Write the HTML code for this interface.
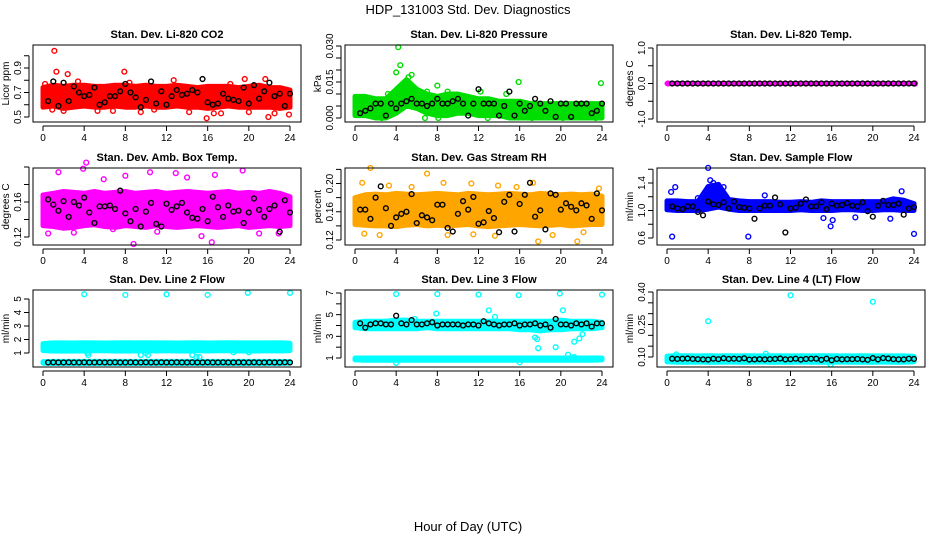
<!DOCTYPE html>
<html><head><meta charset="utf-8"><style>
html,body{margin:0;padding:0;background:#fff;}
svg{display:block;font-family:"Liberation Sans",sans-serif;}
</style></head><body>
<svg id="chart" width="936" height="540" viewBox="0 0 936 540" xmlns="http://www.w3.org/2000/svg">
<rect width="936" height="540" fill="#fff"/>
<text x="468" y="14" text-anchor="middle" font-size="13">HDP_131003  Std. Dev. Diagnostics</text>
<text x="468" y="531" text-anchor="middle" font-size="13">Hour of Day (UTC)</text>
</svg>
<script>
// ---- data ----
const xTicks = [0,4,8,12,16,20,24];
const panelTitles = ["Stan. Dev. Li-820 CO2","Stan. Dev. Li-820 Pressure","Stan. Dev. Li-820 Temp.","Stan. Dev. Amb. Box Temp.","Stan. Dev. Gas Stream RH","Stan. Dev. Sample Flow","Stan. Dev. Line 2 Flow","Stan. Dev. Line 3 Flow","Stan. Dev. Line 4 (LT) Flow"];
const yTitles = ["Licor ppm","kPa","degrees C","degrees C","percent","ml/min","ml/min","ml/min","ml/min"];
const seriesColors = ["#ff0000","#00dd00","#ff00ff","#ff00ff","#ffa500","#0000ff","#00ffff","#00ffff","#00ffff"];
const yTickVals = [[0.5,0.6,0.7,0.8,0.9,1.0],[0,0.005,0.01,0.015,0.02,0.025,0.03],[-1,-0.5,0,0.5,1],[0.12,0.14,0.16,0.18,0.20],[0.12,0.14,0.16,0.18,0.20,0.22],[0.6,0.8,1.0,1.2,1.4,1.6],[1,2,3,4,5],[1,2,3,4,5,6,7],[0.10,0.15,0.20,0.25,0.30,0.35,0.40]];
const yTickLabels = [["0.5","","0.7","","0.9",""],["0.000","","","0.015","","","0.030"],["-1.0","","0.0","","1.0"],["0.12","","0.16","",""],["0.12","","0.16","","0.20",""],["0.6","","1.0","","1.4",""],["1","2","3","4","5"],["1","","3","","5","","7"],["0.10","","","0.25","","","0.40"]];
// hourly band limits (dense point clouds), hours 0..24
const bandLo = [
 [[0.58,0.59,0.57,0.58,0.59,0.58,0.58,0.59,0.58,0.58,0.59,0.58,0.58,0.59,0.58,0.58,0.57,0.58,0.59,0.58,0.58,0.58,0.58,0.57,0.58]],
 [[0.001,0.001,0,0,0.002,0.005,0.004,0.002,0.001,0.001,0.002,0.002,0.001,0.001,0.001,0,0,0,0,0,0,0,0,0,0]],
 [[0,0,0,0,0,0,0,0,0,0,0,0,0,0,0,0,0,0,0,0,0,0,0,0,0]],
 [[0.133,0.132,0.130,0.131,0.133,0.134,0.132,0.131,0.133,0.132,0.131,0.133,0.132,0.131,0.132,0.133,0.132,0.131,0.132,0.133,0.131,0.132,0.133,0.132,0.133]],
 [[0.142,0.141,0.140,0.140,0.139,0.141,0.142,0.140,0.141,0.140,0.141,0.142,0.140,0.139,0.140,0.141,0.142,0.141,0.140,0.141,0.142,0.140,0.141,0.142,0.142]],
 [[1.01,1.00,1.00,1.00,1.02,1.05,1.02,1.00,1.00,1.00,1.00,1.00,1.00,1.01,1.00,1.00,1.00,1.01,1.01,1.00,1.00,1.01,1.01,1.00,1.00]],
 [[1.18,1.15,1.14,1.15,1.15,1.16,1.16,1.15,1.15,1.15,1.16,1.15,1.16,1.15,1.15,1.16,1.15,1.16,1.16,1.15,1.15,1.15,1.16,1.15,1.18],[0.25,0.22,0.22,0.22,0.22,0.22,0.22,0.22,0.22,0.22,0.22,0.22,0.22,0.22,0.22,0.22,0.22,0.22,0.22,0.22,0.22,0.22,0.22,0.22,0.25]],
 [[3.8,3.7,3.7,3.7,3.7,3.7,3.7,3.8,3.7,3.7,3.7,3.7,3.7,3.7,3.7,3.7,3.6,3.6,3.5,3.6,3.6,3.7,3.7,3.7,3.8],[0.82,0.80,0.80,0.80,0.80,0.80,0.80,0.80,0.80,0.80,0.80,0.80,0.80,0.80,0.80,0.80,0.80,0.80,0.80,0.80,0.80,0.80,0.80,0.80,0.82]],
 [[0.078,0.076,0.076,0.077,0.076,0.076,0.077,0.076,0.076,0.077,0.076,0.076,0.076,0.077,0.076,0.076,0.076,0.077,0.076,0.076,0.076,0.077,0.076,0.076,0.078]]
];
const bandHi = [
 [[0.74,0.76,0.75,0.76,0.76,0.75,0.75,0.76,0.76,0.75,0.76,0.75,0.75,0.76,0.75,0.74,0.75,0.75,0.75,0.74,0.75,0.76,0.74,0.74,0.72]],
 [[0.009,0.009,0.008,0.008,0.012,0.016,0.012,0.010,0.009,0.010,0.010,0.009,0.008,0.008,0.007,0.007,0.007,0.006,0.006,0.006,0.006,0.006,0.006,0.006,0.006]],
 [[0,0,0,0,0,0,0,0,0,0,0,0,0,0,0,0,0,0,0,0,0,0,0,0,0]],
 [[0.168,0.170,0.172,0.171,0.170,0.172,0.170,0.171,0.172,0.170,0.171,0.172,0.170,0.171,0.172,0.171,0.170,0.171,0.172,0.170,0.171,0.170,0.172,0.170,0.166]],
 [[0.180,0.184,0.185,0.184,0.186,0.185,0.184,0.185,0.186,0.185,0.184,0.186,0.185,0.184,0.185,0.186,0.185,0.184,0.186,0.185,0.184,0.185,0.184,0.185,0.182]],
 [[1.14,1.14,1.13,1.13,1.35,1.38,1.16,1.14,1.13,1.13,1.13,1.12,1.12,1.13,1.12,1.14,1.13,1.13,1.13,1.13,1.13,1.13,1.17,1.15,1.10]],
 [[1.70,1.75,1.75,1.74,1.76,1.75,1.74,1.75,1.76,1.75,1.76,1.75,1.75,1.74,1.75,1.76,1.74,1.75,1.76,1.75,1.75,1.75,1.75,1.76,1.72],[0.36,0.38,0.38,0.38,0.38,0.38,0.38,0.38,0.38,0.38,0.38,0.38,0.38,0.38,0.38,0.38,0.38,0.38,0.38,0.38,0.38,0.38,0.38,0.38,0.36]],
 [[4.3,4.4,4.4,4.4,4.5,4.5,4.4,4.4,4.4,4.4,4.4,4.4,4.4,4.4,4.4,4.4,4.4,4.4,4.4,4.4,4.5,4.4,4.4,4.4,4.3]],
 [[0.104,0.106,0.106,0.105,0.106,0.105,0.106,0.105,0.106,0.105,0.105,0.106,0.105,0.105,0.105,0.106,0.105,0.105,0.105,0.106,0.105,0.105,0.105,0.105,0.103]]
];
// note: bandLo/bandHi for panel 8 second band
bandHi[7].push([1.0,1.0,1.0,1.0,1.0,1.0,1.0,1.0,1.0,1.0,1.0,1.0,1.0,1.0,1.0,1.0,1.0,1.0,1.0,1.0,1.0,1.0,1.0,1.0,1.0]);
// scattered coloured points [hour, value]
const scatterPts = [
 [[1.1,1.04],[1.3,0.87],[2.4,0.85],[7.9,0.87],[0.2,0.77],[3.4,0.79],[12.7,0.80],[15.9,0.49],[19.6,0.81],[21.6,0.81],[21.9,0.50],[23.9,0.52],[0.9,0.56],[2.0,0.55],[5.3,0.55],[8.4,0.78],[9.5,0.54],[14.2,0.54],[16.6,0.53],[17.3,0.53],[20.0,0.54],[22.5,0.53],[6.8,0.55],[18.2,0.77],[10.8,0.56]],
 [[4.2,0.0295],[4.4,0.022],[5.5,0.018],[8.0,0.0135],[15.9,0.015],[23.9,0.0145],[4.0,0.019],[5.2,0.017],[9.0,0.011],[12.2,0.011],[14.7,0.010],[3.2,0.010],[7.0,0.011],[2.6,0],[6.8,0],[8.1,0],[12.9,0],[17.2,0],[20.2,0],[23.4,0]],
 [[0.1,0],[24.1,0]],
 [[1.5,0.194],[3.9,0.198],[4.2,0.205],[10.4,0.194],[14.0,0.188],[16.7,0.191],[19.4,0.196],[12.9,0.193],[8.8,0.112],[16.4,0.114],[3.0,0.125],[21.0,0.124],[22.9,0.124],[6.8,0.129],[0.5,0.124],[11.1,0.126],[15.4,0.121],[5.9,0.186],[8.0,0.190],[23.7,0.165]],
 [[1.5,0.222],[7.0,0.214],[0.7,0.201],[3.3,0.197],[8.6,0.201],[11.3,0.200],[13.9,0.197],[15.7,0.195],[17.3,0.201],[17.8,0.118],[21.6,0.118],[0.9,0.129],[2.4,0.127],[9.0,0.127],[11.5,0.128],[13.6,0.126],[19.2,0.127],[22.2,0.131],[5.5,0.195],[23.7,0.193]],
 [[4.0,1.62],[4.2,1.44],[4.5,1.40],[5.5,1.34],[0.8,1.34],[0.4,1.27],[22.8,1.28],[0.5,0.62],[7.9,0.62],[15.9,0.77],[16.1,0.86],[24.0,0.66],[15.2,0.89],[18.3,0.90],[21.7,0.88],[9.5,1.22],[3.0,1.18]],
 [[4.0,5.35],[8.0,5.3],[12.0,5.35],[16.0,5.3],[19.9,5.45],[24.0,5.45],[4.4,0.85],[9.5,0.85],[10.2,0.85],[14.5,0.85],[14.9,0.7],[15.2,0.7],[4.3,1.0],[10.0,1.0],[20.0,1.05],[18.5,1.05]],
 [[4.0,6.9],[8.0,6.9],[12.0,6.85],[15.9,6.8],[19.9,6.95],[24.0,6.85],[13.0,5.4],[20.2,5.4],[7.9,5.1],[17.5,2.9],[17.7,2.75],[17.8,1.9],[19.5,2.0],[21.3,2.5],[21.8,2.8],[22.1,3.2],[20.7,1.3],[21.3,1.1],[4.0,0.55],[16.0,0.6],[5.8,4.6],[13.6,4.8]],
 [[4.0,0.265],[12.0,0.385],[20.0,0.355],[9.6,0.115],[15.9,0.065],[0.9,0.112]]
];
// black (current-day) points, half-hourly 0.5..24
const blackVals = [
 [0.63,0.79,0.59,0.78,0.63,0.75,0.70,0.67,0.68,0.74,0.60,0.62,0.67,0.67,0.71,0.77,0.70,0.66,0.58,0.64,0.79,0.61,0.71,0.60,0.67,0.72,0.68,0.69,0.72,0.70,0.81,0.62,0.60,0.61,0.69,0.65,0.64,0.63,0.74,0.61,0.76,0.65,0.71,0.78,0.67,0.69,0.59,0.69],
 [0.002,0.003,0.004,0.006,0.006,0.001,0.006,0.004,0.006,0.007,0.008,0.006,0.006,0.005,0.006,0.008,0.006,0.006,0.007,0.008,0.006,0.001,0.006,0.012,0.006,0.006,0.006,0.001,0.005,0.011,0.001,0.006,0.003,0.005,0.008,0.006,0.003,0.007,0.0005,0.006,0.006,0.0005,0.006,0.006,0.006,0.002,0.003,0.006],
 [0,0,0,0,0,0,0,0,0,0,0,0,0,0,0,0,0,0,0,0,0,0,0,0,0,0,0,0,0,0,0,0,0,0,0,0,0,0,0,0,0,0,0,0,0,0,0,0],
 [0.163,0.157,0.150,0.161,0.143,0.160,0.156,0.165,0.148,0.136,0.155,0.155,0.156,0.152,0.173,0.147,0.138,0.152,0.132,0.149,0.159,0.135,0.132,0.158,0.151,0.155,0.159,0.148,0.142,0.141,0.152,0.138,0.166,0.154,0.143,0.156,0.149,0.150,0.136,0.148,0.164,0.151,0.143,0.152,0.156,0.126,0.162,0.148],
 [0.163,0.163,0.150,0.180,0.196,0.165,0.140,0.152,0.157,0.160,0.185,0.144,0.155,0.152,0.148,0.170,0.170,0.137,0.132,0.157,0.175,0.163,0.181,0.143,0.145,0.161,0.151,0.131,0.174,0.184,0.132,0.171,0.184,0.201,0.153,0.162,0.135,0.186,0.184,0.163,0.172,0.167,0.162,0.172,0.169,0.150,0.186,0.162],
 [1.06,1.03,1.02,1.06,1.06,0.98,0.93,1.13,1.09,1.08,1.12,1.03,1.13,1.05,1.04,1.03,0.88,1.03,1.07,1.07,1.19,1.09,0.68,1.03,1.04,1.10,1.16,1.06,1.06,1.12,1.02,1.10,1.07,1.08,1.11,1.07,1.06,1.12,0.99,0.91,1.07,1.14,1.08,1.08,1.10,0.94,1.03,1.05],
 [0.30,0.31,0.30,0.30,0.31,0.30,0.30,0.31,0.30,0.30,0.31,0.30,0.30,0.31,0.30,0.30,0.31,0.30,0.30,0.31,0.30,0.30,0.31,0.30,0.30,0.31,0.30,0.30,0.31,0.30,0.30,0.31,0.30,0.30,0.31,0.30,0.30,0.31,0.30,0.30,0.31,0.30,0.30,0.31,0.30,0.30,0.31,0.30],
 [4.2,3.8,4.1,4.2,4.2,4.1,4.1,4.9,4.2,4.1,4.5,4.1,4.1,4.2,4.3,4.0,4.1,4.1,4.1,4.1,4.0,4.1,4.1,4.0,4.4,4.2,4.1,4.0,4.1,4.1,4.2,4.0,4.1,4.1,4.2,4.0,4.1,3.8,4.6,4.1,4.1,4.0,4.2,4.1,4.2,3.9,4.2,4.2],
 [0.092,0.091,0.092,0.093,0.091,0.090,0.089,0.088,0.092,0.090,0.094,0.091,0.092,0.091,0.094,0.088,0.089,0.090,0.089,0.090,0.091,0.093,0.089,0.090,0.092,0.088,0.091,0.092,0.092,0.087,0.092,0.085,0.091,0.089,0.090,0.090,0.091,0.089,0.087,0.095,0.089,0.095,0.093,0.090,0.089,0.089,0.092,0.091]
];
// ---- layout: value->pixel calibration per panel (value, pixel pairs) ----
const colX0 = [43,355,667];
const rowTop = [45,168,290];
const yCal = [[0.5,117,0.9,68],[0,118,0.03,46],[-1,119,1,48],[0.12,237,0.16,202],[0.12,240,0.20,183.5],[0.6,238,1.4,183],[1,353,5,299],[1,358,7,293],[0.10,357,0.40,292]];
const NS="http://www.w3.org/2000/svg";
const svg=document.getElementById('chart');
function mk(tag,attrs,parent){const e=document.createElementNS(NS,tag);for(const k in attrs)e.setAttribute(k,attrs[k]);(parent||svg).appendChild(e);return e;}
for(let p=0;p<9;p++){
  const col=p%3,row=Math.floor(p/3);
  const x0=colX0[col],left=x0-10,right=x0+258,top=rowTop[row],bot=top+77;
  const xs=t=>x0+t*247/24;
  const c=yCal[p];
  const ys=v=>c[1]+(v-c[0])*(c[3]-c[1])/(c[2]-c[0]);
  const g=mk('g',{});
  
  
  const tt=mk('text',{x:(left+right)/2,y:top-7,'text-anchor':'middle','font-size':'11','font-weight':'bold'},g);
  tt.textContent=panelTitles[p];
  
  
  // bands
  const col_=seriesColors[p];
  bandLo[p].forEach((lo,bi)=>{
    const hi=bandHi[p][bi];
    let d='';
    lo.forEach((v,i)=>{d+=(i?'L':'M')+xs(i).toFixed(1)+','+ys(hi[i]).toFixed(1);});
    for(let i=lo.length-1;i>=0;i--)d+='L'+xs(i).toFixed(1)+','+ys(lo[i]).toFixed(1);
    const b=mk('path',{d:d+'Z',fill:col_,stroke:col_,'stroke-width':'5','stroke-linejoin':'round'},g);
    
    
  });
  scatterPts[p].forEach(pt=>{
    const e=mk('circle',{cx:xs(pt[0]),cy:ys(pt[1]),r:2.4,fill:'none',stroke:col_,'stroke-width':1.4},g);
    
    
  });
  blackVals[p].forEach((v,i)=>{
    const e=mk('circle',{cx:xs((i+1)*0.5),cy:ys(v),r:2.4,fill:'none',stroke:'#000','stroke-width':1.4},g);
    
    
  });
  const box=mk('rect',{x:left,y:top,width:right-left,height:bot-top,fill:'none',stroke:'#000','stroke-width':1},g);
  
  
  // x axis
  mk('line',{x1:xs(0),x2:xs(24),y1:bot+4,y2:bot+4,stroke:'#000'},g);
  xTicks.forEach(t=>{
    mk('line',{x1:xs(t),x2:xs(t),y1:bot+4,y2:bot+9,stroke:'#000'},g);
    const l=mk('text',{x:xs(t),y:bot+19,'text-anchor':'middle','font-size':'10'},g);
    l.textContent=t;
    
    
  });
  // y axis
  const tv=yTickVals[p];
  mk('line',{x1:left-4,x2:left-4,y1:ys(tv[0]),y2:ys(tv[tv.length-1]),stroke:'#000'},g);
  tv.forEach((v,i)=>{
    const y=ys(v);
    mk('line',{x1:left-9,x2:left-4,y1:y,y2:y,stroke:'#000'},g);
    const s=yTickLabels[p][i];
    if(s){
      const l=mk('text',{x:left-12,y:y,'text-anchor':'middle','font-size':'10',transform:'rotate(-90 '+(left-12)+' '+y+')'},g);
      l.textContent=s;
      
      
    }
  });
  const ym=(top+bot)/2;
  const yt=mk('text',{x:left-24,y:ym,'text-anchor':'middle','font-size':'10',transform:'rotate(-90 '+(left-24)+' '+ym+')'},g);
  yt.textContent=yTitles[p];
  
  
}
</script>
</body></html>
